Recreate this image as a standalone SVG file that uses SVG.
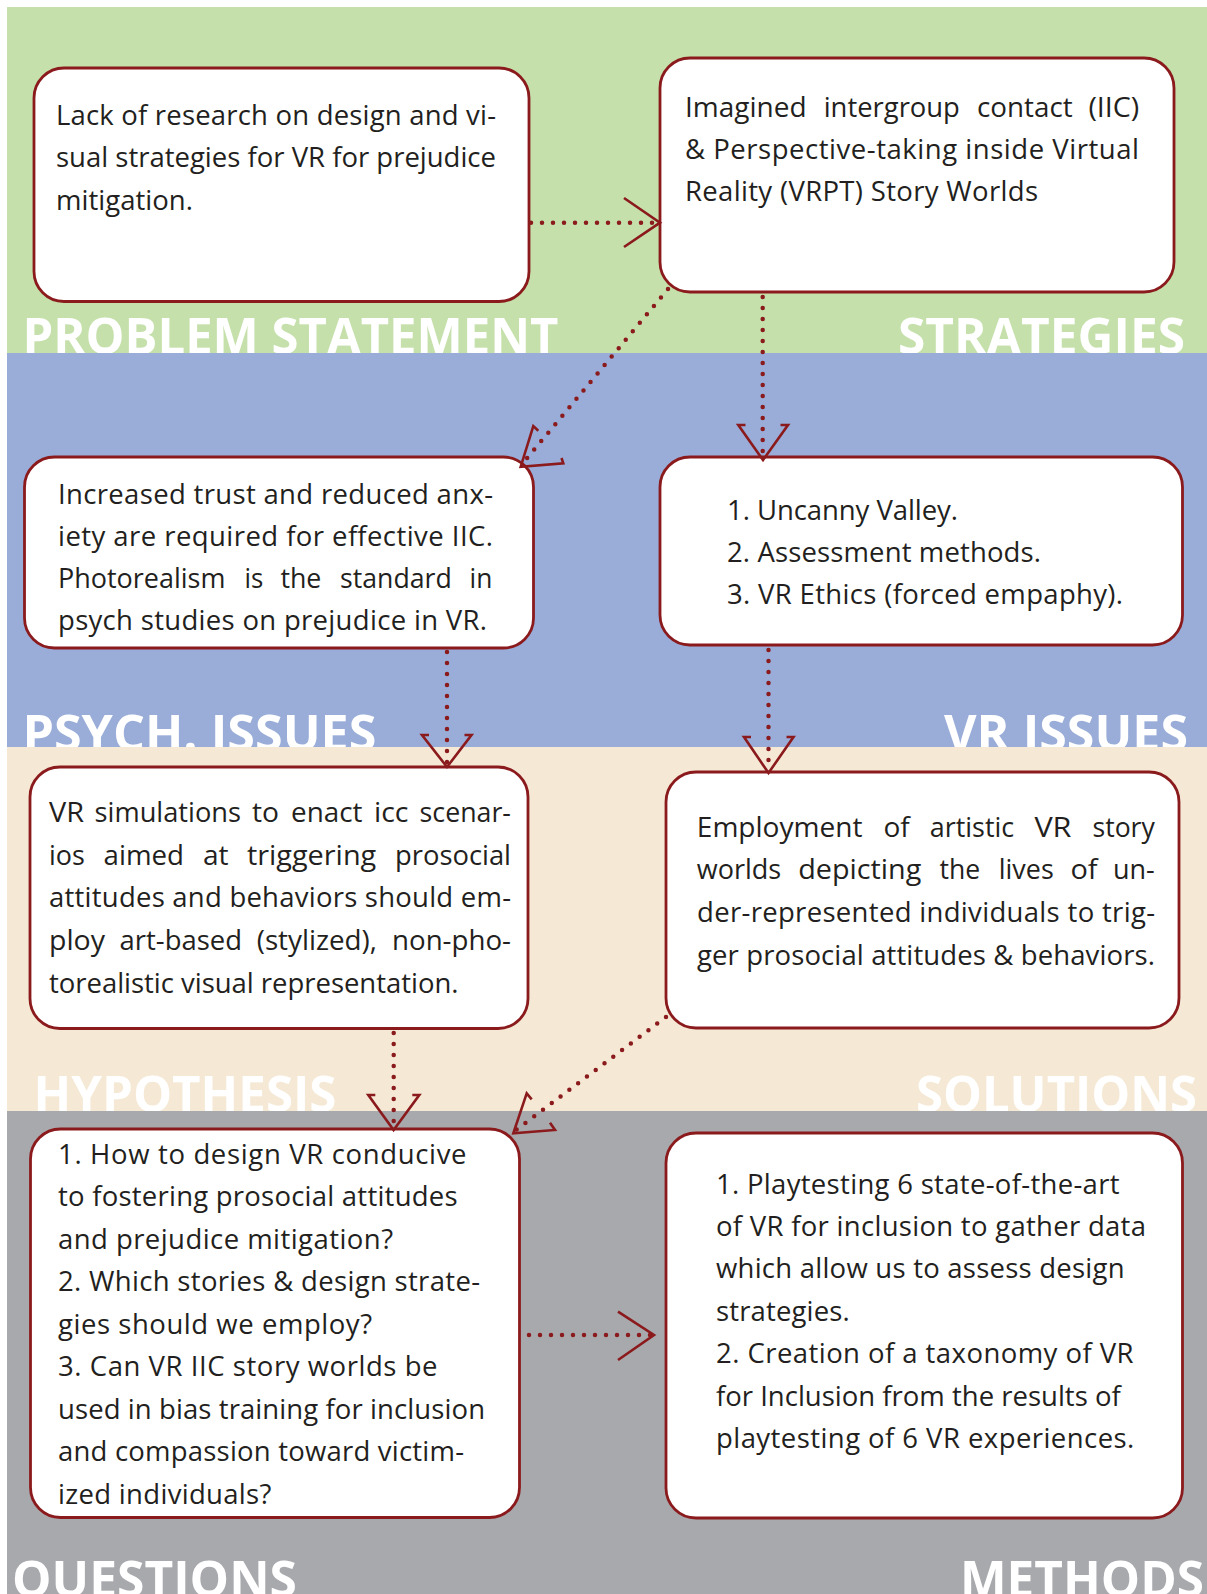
<svg xmlns="http://www.w3.org/2000/svg" width="1207" height="1594" viewBox="0 0 1207 1594">
  <style>
    .node rect { fill: #ffffff; stroke: #8b1a1d; stroke-width: 2.8; }
    .t { font-family: "Open Sans", "Liberation Sans", sans-serif; font-size: 27.5px; fill: #231f20; }
    .lbl { font-family: "Open Sans", "Liberation Sans", sans-serif; font-weight: 700; font-size: 50px; fill: #ffffff; }
    .dots { fill: none; stroke: #8b1a1d; stroke-width: 4.5; stroke-linecap: round; stroke-dasharray: 0 11; }
    .head { fill: none; stroke: #8b1a1d; stroke-width: 2.6; stroke-linejoin: miter; stroke-linecap: butt; }
  </style>

  <rect x="0" y="0" width="1207" height="1594" fill="#ffffff"/>

  <!-- horizontal bands with their section titles -->
  <g id="bands">
    <rect x="7" y="7" width="1200" height="346" fill="#c5e0ab"/>
    <text class="lbl" x="22.4" y="354" textLength="536" lengthAdjust="spacingAndGlyphs">PROBLEM STATEMENT</text>
    <text class="lbl" x="898" y="354" textLength="287" lengthAdjust="spacingAndGlyphs">STRATEGIES</text>

    <rect x="7" y="353" width="1200" height="394" fill="#99add8"/>
    <text class="lbl" x="22.4" y="751" textLength="354" lengthAdjust="spacingAndGlyphs">PSYCH. ISSUES</text>
    <text class="lbl" x="944" y="751" textLength="244" lengthAdjust="spacingAndGlyphs">VR ISSUES</text>

    <rect x="7" y="747" width="1200" height="364" fill="#f5e9d5"/>
    <text class="lbl" x="33.5" y="1112" textLength="303" lengthAdjust="spacingAndGlyphs">HYPOTHESIS</text>
    <text class="lbl" x="916" y="1112" textLength="281" lengthAdjust="spacingAndGlyphs">SOLUTIONS</text>

    <rect x="7" y="1111" width="1200" height="483" fill="#a8a9ad"/>
    <text class="lbl" x="12" y="1597" textLength="285" lengthAdjust="spacingAndGlyphs">QUESTIONS</text>
    <text class="lbl" x="960" y="1597" textLength="244" lengthAdjust="spacingAndGlyphs">METHODS</text>
  </g>

  <!-- nodes -->
  <g id="problem" class="node">
    <rect x="34" y="68" width="495" height="233.5" rx="30"/>
    <text class="t" x="56" y="124.5" textLength="440" lengthAdjust="spacing">Lack of research on design and vi-</text>
    <text class="t" x="56" y="167" textLength="440" lengthAdjust="spacing">sual strategies for VR for prejudice</text>
    <text class="t" x="56" y="209.5" textLength="137" lengthAdjust="spacing">mitigation.</text>
  </g>

  <g id="strategies" class="node">
    <rect x="660" y="58" width="514" height="234" rx="30"/>
    <text class="t" y="116.5"><tspan x="685" textLength="121.6" lengthAdjust="spacingAndGlyphs">Imagined</tspan><tspan x="823.7" textLength="136.2" lengthAdjust="spacingAndGlyphs">intergroup</tspan><tspan x="977" textLength="95.6" lengthAdjust="spacingAndGlyphs">contact</tspan><tspan x="1088.4" textLength="50.9" lengthAdjust="spacingAndGlyphs">(IIC)</tspan></text>
    <text class="t" x="685" y="158.5" textLength="454" lengthAdjust="spacing">&amp; Perspective-taking inside Virtual</text>
    <text class="t" x="685" y="200.5" textLength="353" lengthAdjust="spacing">Reality (VRPT) Story Worlds</text>
  </g>

  <g id="psych-issues" class="node">
    <rect x="24.5" y="457" width="509" height="191" rx="30"/>
    <text class="t" x="58" y="503.5" textLength="435" lengthAdjust="spacing">Increased trust and reduced anx-</text>
    <text class="t" x="58" y="545.5" textLength="435" lengthAdjust="spacing">iety are required for effective IIC.</text>
    <text class="t" y="588"><tspan x="58" textLength="167.4" lengthAdjust="spacingAndGlyphs">Photorealism</tspan><tspan x="244.6" textLength="18.8" lengthAdjust="spacingAndGlyphs">is</tspan><tspan x="280.4" textLength="41" lengthAdjust="spacingAndGlyphs">the</tspan><tspan x="340" textLength="111.8" lengthAdjust="spacingAndGlyphs">standard</tspan><tspan x="469.6" textLength="22.8" lengthAdjust="spacingAndGlyphs">in</tspan></text>
    <text class="t" x="58" y="630" textLength="429" lengthAdjust="spacing">psych studies on prejudice in VR.</text>
  </g>

  <g id="vr-issues" class="node">
    <rect x="660" y="457" width="522.5" height="188" rx="30"/>
    <text class="t" x="727" y="520" textLength="231" lengthAdjust="spacing">1. Uncanny Valley.</text>
    <text class="t" x="727" y="562" textLength="314" lengthAdjust="spacing">2. Assessment methods.</text>
    <text class="t" x="727" y="604" textLength="396" lengthAdjust="spacing">3. VR Ethics (forced empaphy).</text>
  </g>

  <g id="hypothesis" class="node">
    <rect x="30" y="767" width="498" height="261.5" rx="30"/>
    <text class="t" y="822"><tspan x="49" textLength="35" lengthAdjust="spacingAndGlyphs">VR</tspan><tspan x="94.6" textLength="146.4" lengthAdjust="spacingAndGlyphs">simulations</tspan><tspan x="252" textLength="27" lengthAdjust="spacingAndGlyphs">to</tspan><tspan x="291" textLength="71.5" lengthAdjust="spacingAndGlyphs">enact</tspan><tspan x="374" textLength="34.5" lengthAdjust="spacingAndGlyphs">icc</tspan><tspan x="419.6" textLength="91.4" lengthAdjust="spacingAndGlyphs">scenar-</tspan></text>
    <text class="t" y="864.5"><tspan x="49" textLength="35.8" lengthAdjust="spacingAndGlyphs">ios</tspan><tspan x="103.6" textLength="80.4" lengthAdjust="spacingAndGlyphs">aimed</tspan><tspan x="203" textLength="25.6" lengthAdjust="spacingAndGlyphs">at</tspan><tspan x="246.9" textLength="129.4" lengthAdjust="spacingAndGlyphs">triggering</tspan><tspan x="395" textLength="116" lengthAdjust="spacingAndGlyphs">prosocial</tspan></text>
    <text class="t" x="49" y="907" textLength="462" lengthAdjust="spacing">attitudes and behaviors should em-</text>
    <text class="t" y="950"><tspan x="49" textLength="56" lengthAdjust="spacingAndGlyphs">ploy</tspan><tspan x="119.6" textLength="122.4" lengthAdjust="spacingAndGlyphs">art-based</tspan><tspan x="256.7" textLength="120.3" lengthAdjust="spacingAndGlyphs">(stylized),</tspan><tspan x="392" textLength="119" lengthAdjust="spacingAndGlyphs">non-pho-</tspan></text>
    <text class="t" x="49" y="992.5" textLength="409.5" lengthAdjust="spacing">torealistic visual representation.</text>
  </g>

  <g id="solutions" class="node">
    <rect x="666" y="772" width="513" height="256" rx="30"/>
    <text class="t" y="836.5"><tspan x="696.8" textLength="165.7" lengthAdjust="spacingAndGlyphs">Employment</tspan><tspan x="883.4" textLength="26.3" lengthAdjust="spacingAndGlyphs">of</tspan><tspan x="929.8" textLength="84.4" lengthAdjust="spacingAndGlyphs">artistic</tspan><tspan x="1034.4" textLength="37.1" lengthAdjust="spacingAndGlyphs">VR</tspan><tspan x="1092.5" textLength="62.3" lengthAdjust="spacingAndGlyphs">story</tspan></text>
    <text class="t" y="879"><tspan x="696.8" textLength="84.4" lengthAdjust="spacingAndGlyphs">worlds</tspan><tspan x="798.2" textLength="123.1" lengthAdjust="spacingAndGlyphs">depicting</tspan><tspan x="939.5" textLength="40.7" lengthAdjust="spacingAndGlyphs">the</tspan><tspan x="998.8" textLength="54.9" lengthAdjust="spacingAndGlyphs">lives</tspan><tspan x="1070.4" textLength="27.1" lengthAdjust="spacingAndGlyphs">of</tspan><tspan x="1113" textLength="41.8" lengthAdjust="spacingAndGlyphs">un-</tspan></text>
    <text class="t" x="697" y="922" textLength="458" lengthAdjust="spacing">der-represented individuals to trig-</text>
    <text class="t" x="697" y="965" textLength="458" lengthAdjust="spacing">ger prosocial attitudes &amp; behaviors.</text>
  </g>

  <g id="questions" class="node">
    <rect x="30.5" y="1129" width="489" height="388.5" rx="30"/>
    <text class="t" x="58" y="1163.5" textLength="408.5" lengthAdjust="spacing">1. How to design VR conducive</text>
    <text class="t" x="58" y="1206" textLength="399.6" lengthAdjust="spacing">to fostering prosocial attitudes</text>
    <text class="t" x="58" y="1248.5" textLength="335" lengthAdjust="spacing">and prejudice mitigation?</text>
    <text class="t" x="58" y="1291" textLength="422" lengthAdjust="spacing">2. Which stories &amp; design strate-</text>
    <text class="t" x="58" y="1333.5" textLength="314" lengthAdjust="spacing">gies should we employ?</text>
    <text class="t" x="58" y="1376" textLength="379.5" lengthAdjust="spacing">3. Can VR IIC story worlds be</text>
    <text class="t" x="58" y="1418.5" textLength="427" lengthAdjust="spacing">used in bias training for inclusion</text>
    <text class="t" x="58" y="1461" textLength="406" lengthAdjust="spacing">and compassion toward victim-</text>
    <text class="t" x="58" y="1503.5" textLength="213.4" lengthAdjust="spacing">ized individuals?</text>
  </g>

  <g id="methods" class="node">
    <rect x="666" y="1133" width="516.5" height="385" rx="30"/>
    <text class="t" x="716" y="1193.5" textLength="403.5" lengthAdjust="spacing">1. Playtesting 6 state-of-the-art</text>
    <text class="t" x="716" y="1235.5" textLength="430" lengthAdjust="spacing">of VR for inclusion to gather data</text>
    <text class="t" x="716" y="1278" textLength="408.6" lengthAdjust="spacing">which allow us to assess design</text>
    <text class="t" x="716" y="1320.5" textLength="133.7" lengthAdjust="spacing">strategies.</text>
    <text class="t" x="716" y="1363" textLength="417.5" lengthAdjust="spacing">2. Creation of a taxonomy of VR</text>
    <text class="t" x="716" y="1405.5" textLength="404.7" lengthAdjust="spacing">for Inclusion from the results of</text>
    <text class="t" x="716" y="1448" textLength="418.3" lengthAdjust="spacing">playtesting of 6 VR experiences.</text>
  </g>

  <!-- dotted connectors with open arrowheads -->
  <g id="connectors">
    <!-- problem -> strategies -->
    <line class="dots" x1="531" y1="222.7" x2="656" y2="222.7"/>
    <polyline class="head" points="624,198 660,222.7 624,247"/>

    <!-- strategies -> psych issues -->
    <line class="dots" x1="668" y1="289" x2="523" y2="463"/>
    <polyline class="head" points="538.3,430.7 533.3,426 520.7,466.7 563.3,463.3 561.5,458"/>

    <!-- strategies -> vr issues -->
    <line class="dots" x1="762.7" y1="297" x2="762.7" y2="456"/>
    <polyline class="head" points="745.5,425 738.3,425 763,460 788,425 780.5,425"/>

    <!-- psych issues -> hypothesis -->
    <line class="dots" x1="447" y1="652" x2="447" y2="764"/>
    <polyline class="head" points="429,735 422,735 447,767 471.5,735 464.5,735"/>

    <!-- vr issues -> solutions -->
    <line class="dots" x1="768.5" y1="650" x2="768.5" y2="770"/>
    <polyline class="head" points="751,737 744,737 768.5,773 793.5,737 786.5,737"/>

    <!-- hypothesis -> questions -->
    <line class="dots" x1="393.7" y1="1033" x2="393.7" y2="1127"/>
    <polyline class="head" points="375.3,1095 368.3,1095 393.6,1130 419.3,1095 412.3,1095"/>

    <!-- solutions -> questions -->
    <line class="dots" x1="666" y1="1017" x2="516" y2="1130"/>
    <polyline class="head" points="531.7,1099.3 526.7,1093.3 513.3,1133.3 555,1130 550,1122.7"/>

    <!-- questions -> methods -->
    <line class="dots" x1="529" y1="1335" x2="651" y2="1335"/>
    <polyline class="head" points="618,1311.7 654,1335 618,1360"/>
  </g>
</svg>
